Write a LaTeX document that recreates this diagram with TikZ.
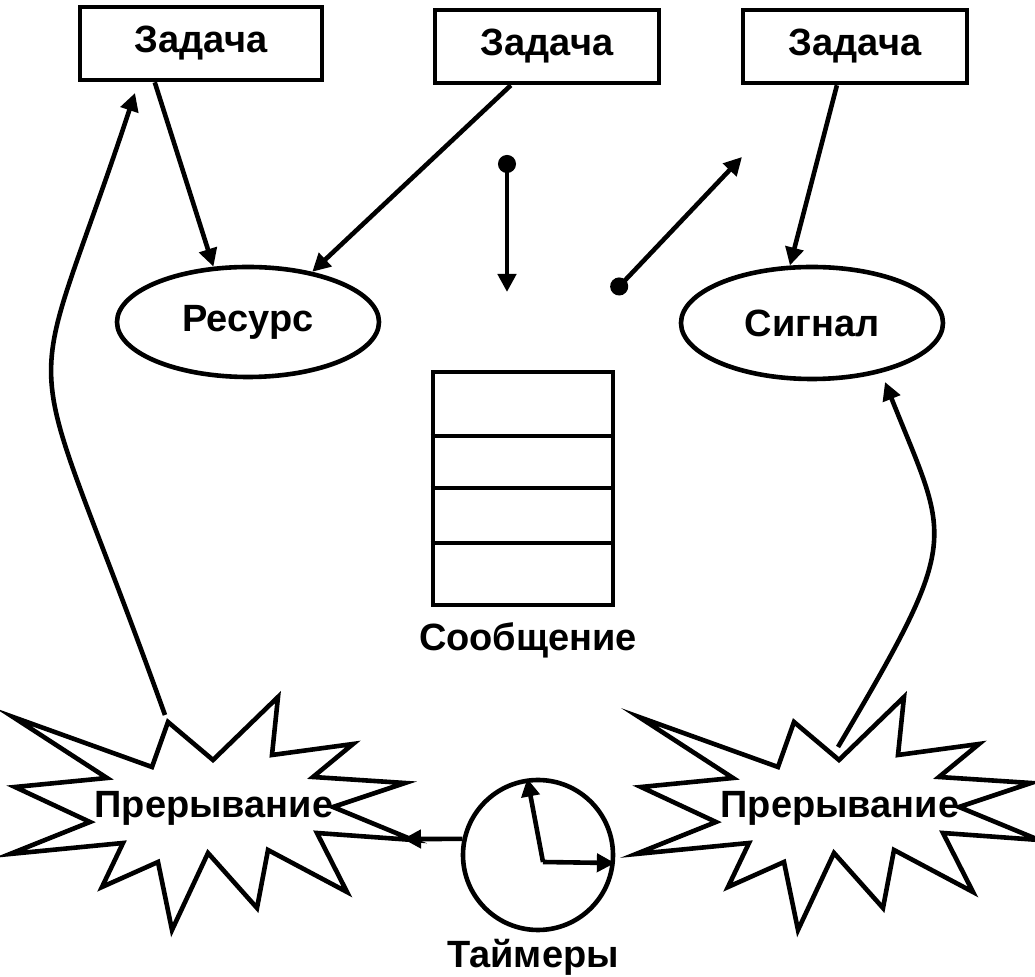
\documentclass[tikz,border=0pt]{standalone}
\usepackage{fontspec}
\setmainfont{Liberation Sans}
\usetikzlibrary{arrows.meta,shapes.geometric}
\newcommand{\burstpath}{(-201,-91) -- (-62,-41) -- (-46,-86) -- (-1,-48) -- (64,-111) -- (58,-53) -- (139,-64) -- (99,-31) -- (191,-25) -- (119,-1) -- (199,32) -- (103,25) -- (133,84) -- (54,42) -- (43,100) -- (-6,45) -- (-42,122) -- (-56,54) -- (-112,79) -- (-91,35) -- (-204,46) -- (-124,14) -- (-199,-21) -- (-107,-30) -- cycle}

\begin{document}
\begin{tikzpicture}[x=0.5pt,y=-0.5pt,line width=2.3pt,font=\fontsize{19}{22}\selectfont\bfseries,
  >={Triangle[length=9pt,width=9pt]},
  box/.style={draw,rectangle,minimum height=36.5pt,inner sep=0pt},
  res/.style={draw,ellipse,minimum width=131pt,minimum height=55pt,inner sep=0pt},
  dot/.style={{Circle[length=9pt]}->}]
\useasboundingbox (0,0) rectangle (1035,977);
\node[box,minimum width=121pt] (t1) at (201,43.5) {Задача};
\node[box,minimum width=112pt] (t2) at (547,46.5) {Задача};
\node[box,minimum width=112pt] (t3) at (855,46.5) {Задача};
\node[res] (rs) at (248,322) {Ресурс};
\node[res,minimum height=56pt] (sg) at (812,323) {Сигнал};
\node[draw,minimum width=90pt,minimum height=116.5pt,inner sep=0pt] (msg) at (523,488.5) {};
\foreach \y in {436,488,543} \draw (msg.west |- 0,\y) -- (msg.east |- 0,\y);
\node (msgl) at (528,640) {Сообщение};
\draw[shift={(214,808)}] \burstpath;
\draw[shift={(840,808)}] \burstpath;
\node (i1) at (214,808) {Прерывание};
\node (i2) at (840,808) {Прерывание};
\node[draw,circle,minimum size=75pt,inner sep=0pt] (clk) at (538,855) {};
\node (clkl) at (533,957) {Таймеры};
\coordinate (hub) at (543,862);
\coordinate (qa) at (507,155);
\coordinate (qb) at (507,292);
\coordinate (qc) at (613,293);
\coordinate (qd) at (742,157);
\coordinate (b1) at (165,715);
\coordinate (t1in) at (135,93);
\coordinate (b2) at (838,747);
\coordinate (sgin) at (885,382);
\coordinate (b1e) at (403,839);
\draw[->] (t1.220) -- (rs.122);
\draw[->] (t2.227) -- (rs.38);
\draw[->] (t3.245) -- (sg.111);
\draw[dot] (qa) -- (qb);
\draw[dot] (qc) -- (qd);
\draw[->] (b1) .. controls (18,306) and (21,438) .. (t1in);
\draw[->] (b2) .. controls (964,534) and (949,543) .. (sgin);
\draw[->] (clk.168) -- (b1e);
\draw[->] (hub) -- (clk.98);
\draw[->] (hub) -- (clk.-6);
\end{tikzpicture}
\end{document}
